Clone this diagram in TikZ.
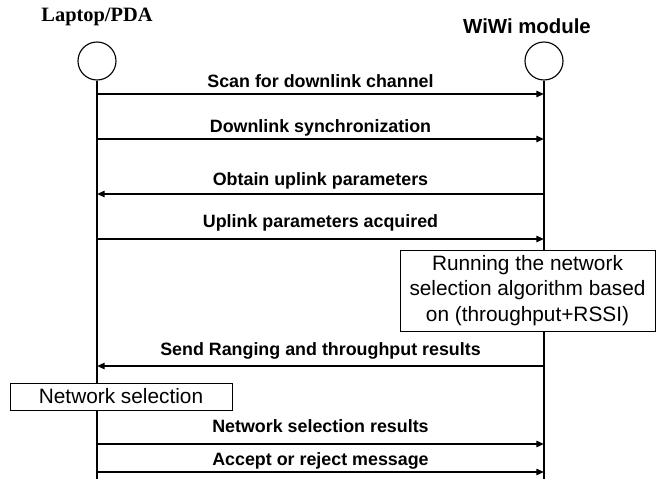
\documentclass[tikz,border=0pt]{standalone}
\usepackage{fontspec}
\setmainfont{Liberation Serif}
\setsansfont{Liberation Sans}
\usetikzlibrary{arrows.meta,positioning}

\begin{document}
\begin{tikzpicture}[x=0.025cm,y=-0.025cm,
	actor/.style={draw,circle,line width=0.8pt,minimum size=0.95cm,inner sep=0pt},
	lifeline/.style={line width=1.2pt},
	msg/.style={line width=1.2pt,-{Triangle[length=5.5pt,width=4.5pt]}},
	msgtext/.style={anchor=base,inner sep=0pt,font=\sffamily\bfseries\fontsize{12.7}{15}\selectfont},
	notebox/.style={draw,fill=white,line width=0.5pt,align=center,inner sep=0pt,
		font=\sffamily\fontsize{14.8}{18}\selectfont}]
			%%%%% START %%%%%
			
			\useasboundingbox (0,0) rectangle (662,479);
			\coordinate (bottom) at (0,479);
			
			\node[font=\rmfamily\bfseries\fontsize{14.5}{17}\selectfont] (laptoplabel) at (97,17) {Laptop/PDA};
			\node[font=\sffamily\bfseries\fontsize{14.5}{17}\selectfont] (wiwilabel) at (527,26) {WiWi module};
			
			\node[actor] (laptop) at (97,61) {};
			\node[actor] (wiwi) at (544,61) {};
			
			\draw[lifeline] (laptop.south) -- (laptop |- bottom);
			\draw[lifeline] (wiwi.south) -- (wiwi |- bottom);
			
			\foreach \y/\g/\s/\t/\txt [count=\i] in {
				94/6/laptop/wiwi/Scan for downlink channel,
				139/6.5/laptop/wiwi/Downlink synchronization,
				194/9/wiwi/laptop/Obtain uplink parameters,
				239/11/laptop/wiwi/Uplink parameters acquired,
				366/10.5/wiwi/laptop/Send Ranging and throughput results,
				444/11.5/laptop/wiwi/Network selection results,
				472/7/laptop/wiwi/Accept or reject message}
			{
				\coordinate (m\i) at (0,\y);
				\draw[msg] (\s |- m\i) -- node[msgtext,yshift=\g*0.7113pt] {\txt} (\t |- m\i);
			}
			
			\node[notebox,minimum width=6.375cm,minimum height=2.025cm] (running) at (527.5,290.5)
				{Running the network\\selection algorithm based\\on (throughput+RSSI)};
			\node[notebox,minimum width=5.55cm,minimum height=0.675cm] (selection) at (121,396.5)
				{Network selection};
			
			%%%%% END %%%%%
\end{tikzpicture}
\end{document}
